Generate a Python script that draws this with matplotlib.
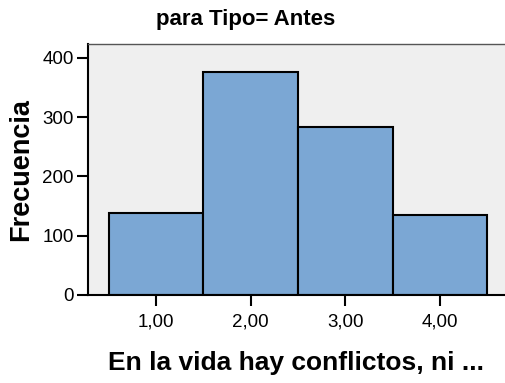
import matplotlib.pyplot as plt
import matplotlib

matplotlib.rcParams['font.family'] = ['Liberation Sans', 'DejaVu Sans']

# ========================== Data ==========================
centers = [1.0, 2.0, 3.0, 4.0]
counts = [138, 376, 283, 135]
xtick_labels = ["1,00", "2,00", "3,00", "4,00"]
yticks = [0, 100, 200, 300, 400]

# ========================== Plot ==========================
fig = plt.figure(figsize=(5.05, 3.83), dpi=100)
ax = fig.add_axes([0.174, 0.2298, 0.826, 0.6553])
ax.set_facecolor('#EFEFEF')

ax.bar(centers, counts, width=1.0, color='#7BA7D4', edgecolor='black', lw=1.5, zorder=2)

ax.set_xlim(0.282, 4.685)
ax.set_ylim(0, 423.6)
ax.set_xticks(centers, xtick_labels)
ax.set_yticks(yticks)

ax.spines['right'].set_visible(False)
ax.spines['top'].set_color('#555555')
ax.spines['top'].set_linewidth(1.0)
ax.spines['left'].set_linewidth(1.5)
ax.spines['bottom'].set_linewidth(1.5)
ax.tick_params(direction='out', length=8, width=1.5, labelsize=13.5)
ax.tick_params(axis='y', pad=2)
ax.tick_params(axis='x', pad=5)

fig.text(246 / 505, 1 - 20 / 383, 'para Tipo= Antes', fontsize=16, fontweight='bold',
         ha='center', va='center')
ax.set_xlabel('En la vida hay conflictos, ni ...', fontsize=19, fontweight='bold', labelpad=15)
ax.set_ylabel('Frecuencia', fontsize=19.5, fontweight='bold', labelpad=6)

fig.savefig('out.png', dpi=100)
